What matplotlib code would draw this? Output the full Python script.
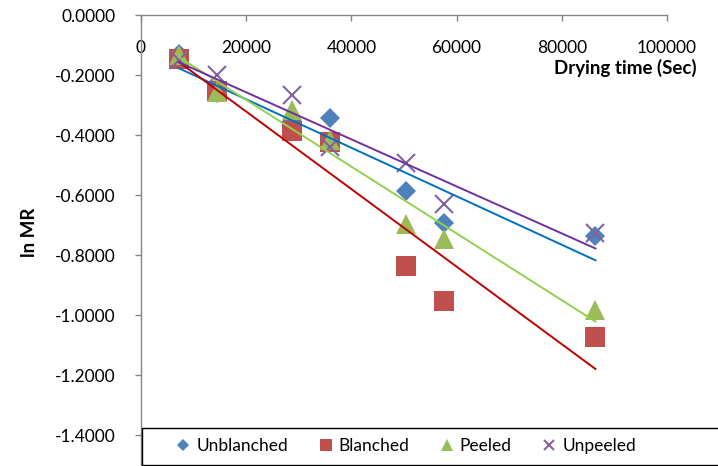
import numpy as np
import matplotlib.pyplot as plt
from matplotlib.patches import Rectangle

plt.rcParams['font.family'] = ['Lato', 'DejaVu Sans']

# drying time (s)
times = [7200, 14400, 28800, 36000, 50400, 57600, 86400]

# ln MR per treatment
unblanched = [-0.130, -0.260, -0.354, -0.343, -0.586, -0.695, -0.737]
blanched = [-0.148, -0.252, -0.388, -0.422, -0.838, -0.953, -1.072]
peeled = [-0.133, -0.255, -0.317, -0.417, -0.697, -0.745, -0.983]
unpeeled = [-0.150, -0.200, -0.267, -0.440, -0.494, -0.630, -0.727]

x_ticks = [0, 20000, 40000, 60000, 80000, 100000]
y_ticks = [0.0, -0.2, -0.4, -0.6, -0.8, -1.0, -1.2, -1.4]

series = [
    ('Unblanched', unblanched, 'D', 9.8, '#4F81BD', '#0070C0'),
    ('Blanched', blanched, 's', 14, '#C0504D', '#C00000'),
    ('Peeled', peeled, '^', 14, '#9BBB59', '#92D050'),
    ('Unpeeled', unpeeled, 'x', 13, '#8064A2', '#7030A0'),
]

fig = plt.figure(figsize=(7.18, 4.66), dpi=100)
ax = fig.add_axes([141 / 718, 1 - 465 / 466, 526 / 718, 450 / 466])

t = np.array(times, dtype=float)
handles = []
for name, vals, mk, ms, mcol, lcol in series:
    if mk == 'x':
        h, = ax.plot(t, vals, linestyle='none', marker=mk, markersize=ms,
                     color=mcol, markeredgewidth=1.5, label=name, zorder=3)
    else:
        h, = ax.plot(t, vals, linestyle='none', marker=mk, markersize=ms,
                     color=mcol, markeredgewidth=0, label=name, zorder=3)
    handles.append(h)

# linear trendlines
for name, vals, mk, ms, mcol, lcol in series:
    k, b = np.polyfit(t, vals, 1)
    xs = np.array([t.min(), t.max()])
    ax.plot(xs, k * xs + b, color=lcol, lw=1.4, zorder=4)

ax.set_xlim(0, 100000)
ax.set_ylim(-1.5, 0)

for s in ['top', 'right']:
    ax.spines[s].set_visible(False)
ax.spines['bottom'].set_position(('data', 0))
for s in ['left', 'bottom']:
    ax.spines[s].set_color('#868686')
    ax.spines[s].set_linewidth(1.0)

ax.set_xticks(x_ticks)
ax.set_xticklabels([str(v) for v in x_ticks])
ax.set_yticks(y_ticks)
ax.set_yticklabels([f'{v:.4f}' for v in y_ticks])
ax.tick_params(axis='x', direction='out', length=4, width=1, color='#868686',
               pad=14, labelsize=12.5)
ax.tick_params(axis='y', direction='out', length=4, width=1, color='#868686',
               pad=14, labelsize=12.5)

ax.set_xlabel('Drying time (Sec)', fontsize=13.5, fontweight='bold',
              ha='right', va='center')
ax.xaxis.set_label_coords((697 - 141) / 526, (465 - 68) / 450)
ax.set_ylabel('ln MR', fontsize=13.5, fontweight='bold')
ax.yaxis.set_label_coords((38 - 141) / 526, (465 - 232) / 450)

# legend box at the bottom
fig.patches.append(Rectangle((142 / 718, 1 - 465 / 466), 580 / 718, 37 / 466,
                             transform=fig.transFigure, facecolor='white',
                             edgecolor='black', lw=1.0, zorder=5))
leg = fig.legend(handles=handles, loc='center left', ncol=4, frameon=False,
                 bbox_to_anchor=(160 / 718, 1 - 446 / 466), fontsize=12.5,
                 handlelength=0.9, handletextpad=0.3, columnspacing=1.7,
                 markerscale=0.6)
leg.set_zorder(6)

fig.savefig('out.png', dpi=100)
